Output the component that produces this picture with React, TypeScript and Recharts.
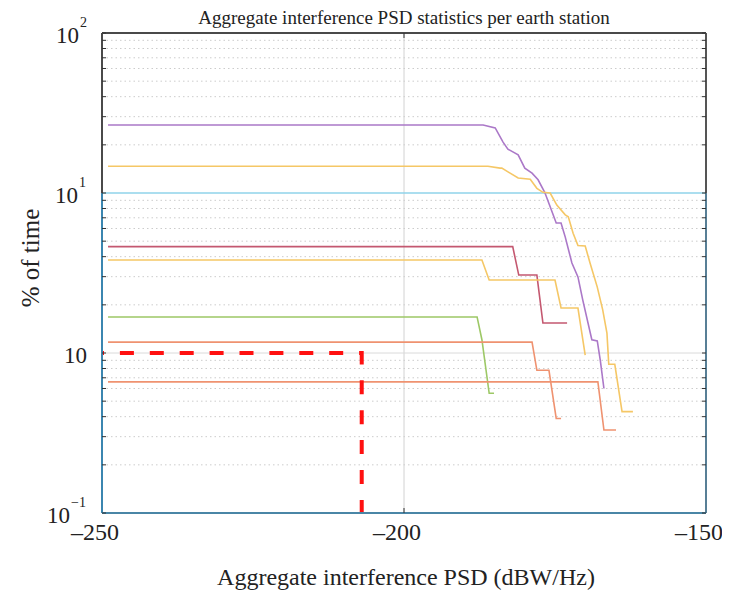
import React from 'react';
import { LineChart, Line, XAxis, YAxis, ReferenceLine } from 'recharts';

// x values in dBW/Hz, y values in % of time
const purpleX = [-249, -186.9, -184.9, -183.6, -182.8, -181.1, -180.0, -178.8, -177.8, -176.7, -175.8, -174.8, -174.0, -173.3, -172.2, -171.2, -170.4, -168.9, -168.0, -167.5, -166.9];
const purpleY = [26.6, 26.6, 25.5, 20.8, 18.8, 17.3, 14.3, 13.3, 12.1, 10.1, 8.2, 6.5, 6.5, 5.3, 3.65, 2.99, 2.14, 1.21, 1.19, 0.9, 0.6];

const yellowAX = [-249, -186.1, -184.1, -183.8, -181.1, -179.1, -178.0, -177.0, -175.8, -174.7, -173.3, -172.8, -172.0, -171.2, -170.0, -169.2, -168.0, -167.1, -166.4, -166.1, -165.1, -163.9, -162.1];
const yellowAY = [14.7, 14.7, 14.3, 14.3, 12.4, 12.2, 10.7, 10.1, 10.0, 8.4, 7.3, 7.1, 5.6, 4.7, 4.67, 3.65, 2.58, 1.86, 1.33, 0.85, 0.85, 0.43, 0.43];

const maroonX = [-249, -182.0, -181.0, -178.0, -177.0, -173.0];
const maroonY = [4.62, 4.62, 3.07, 3.07, 1.54, 1.54];

const yellowBX = [-249, -187.1, -185.9, -175.0, -174.0, -171.2, -170.0];
const yellowBY = [3.81, 3.81, 2.86, 2.86, 1.91, 1.91, 0.97];

const greenX = [-249, -187.9, -187.1, -185.9, -185.1];
const greenY = [1.68, 1.68, 1.21, 0.56, 0.56];

const orangeAX = [-249, -178.8, -178.0, -176.0, -174.8, -174.0];
const orangeAY = [1.17, 1.17, 0.78, 0.78, 0.39, 0.39];

const orangeBX = [-249, -167.9, -166.9, -164.9];
const orangeBY = [0.66, 0.66, 0.33, 0.33];

// protection criterion
const limitX = [-250, -207, -207];
const limitY = [1, 1, 0.1];

const xTicks = [-250, -200, -150];
const yTicks = [0.1, 1, 10, 100];
const minorGrid = [0.2, 0.3, 0.4, 0.5, 0.6, 0.7, 0.8, 0.9, 2, 3, 4, 5, 6, 7, 8, 9, 20, 30, 40, 50, 60, 70, 80, 90];

const PLOT_LEFT = 94;
const PLOT_RIGHT = 698;
const PLOT_TOP = 25;
const PLOT_BOTTOM = 505;
const FONT = '"Liberation Serif", "Times New Roman", serif';

const toPoints = (xs: number[], ys: number[]) => xs.map((x, i) => ({ x, y: ys[i] }));

const series = [
  { key: 'purple', xs: purpleX, ys: purpleY, color: '#ab78c8' },
  { key: 'yellowA', xs: yellowAX, ys: yellowAY, color: '#f5c766' },
  { key: 'maroon', xs: maroonX, ys: maroonY, color: '#c45870' },
  { key: 'yellowB', xs: yellowBX, ys: yellowBY, color: '#f5c766' },
  { key: 'green', xs: greenX, ys: greenY, color: '#9dc866' },
  { key: 'orangeA', xs: orangeAX, ys: orangeAY, color: '#ef9270' },
  { key: 'orangeB', xs: orangeBX, ys: orangeBY, color: '#ef9270' },
];

const majorLabels: Record<number, { right: number; sup: string }> = {
  100: { right: 71, sup: '2' },
  10: { right: 70, sup: '1' },
  1: { right: 79, sup: '' },
  0.1: { right: 62, sup: '\u22121' },
};

const YTick = (props: any) => {
  const { y, payload } = props;
  const v = payload.value;
  const lab = majorLabels[v];
  return (
    <g>
      <line x1={PLOT_LEFT} x2={PLOT_LEFT + 4} y1={y} y2={y} stroke="#333" strokeWidth={1} />
      <line x1={PLOT_RIGHT - 4} x2={PLOT_RIGHT} y1={y} y2={y} stroke="#333" strokeWidth={1} />
      {lab && (
        <text x={lab.right} y={y + 10} textAnchor="end" fontSize={23} fontFamily={FONT} fill="#222">
          10
        </text>
      )}
      {lab && lab.sup && (
        <text x={lab.right + 1} y={y - 6} textAnchor="start" fontSize={14} fontFamily={FONT} fill="#222">
          {lab.sup}
        </text>
      )}
    </g>
  );
};

const XTick = (props: any) => {
  const { x, payload } = props;
  const inner = payload.value !== -250 && payload.value !== -150;
  return (
    <g>
      {inner && <line x1={x} x2={x} y1={PLOT_BOTTOM} y2={PLOT_BOTTOM - 5} stroke="#333" />}
      {inner && <line x1={x} x2={x} y1={PLOT_TOP} y2={PLOT_TOP + 5} stroke="#333" />}
      <text x={x - 7} y={PLOT_BOTTOM + 27} textAnchor="middle" fontSize={24} fontFamily={FONT} fill="#222">
        {'\u2013' + Math.abs(payload.value)}
      </text>
    </g>
  );
};

const YLabel = () => (
  <text
    x={22}
    y={250}
    transform="rotate(-90 22 250)"
    textAnchor="middle"
    dominantBaseline="central"
    fontSize={25}
    fontFamily={FONT}
    fill="#222"
  >
    % of time
  </text>
);

const XLabel = () => (
  <text x={398} y={577} textAnchor="middle" fontSize={24} fontFamily={FONT} fill="#222">
    Aggregate interference PSD (dBW/Hz)
  </text>
);

export default function App() {
  return (
    <div style={{ position: 'relative', width: 722, height: 583, background: '#fff' }}>
      <div
        style={{
          position: 'absolute',
          left: PLOT_LEFT,
          width: PLOT_RIGHT - PLOT_LEFT,
          top: 0,
          textAlign: 'center',
          fontFamily: FONT,
          fontSize: 19,
          lineHeight: '20px',
          color: '#222',
        }}
      >
        Aggregate interference PSD statistics per earth station
      </div>
      <LineChart width={722} height={583} margin={{ top: PLOT_TOP, right: 24, bottom: 0, left: 0 }}>
        <XAxis
          type="number"
          dataKey="x"
          domain={[-250, -150]}
          ticks={xTicks}
          interval={0}
          allowDataOverflow
          height={78}
          axisLine={false}
          tickLine={false}
          tick={<XTick />}
          label={<XLabel />}
        />
        <YAxis
          type="number"
          dataKey="y"
          scale="log"
          domain={[0.1, 100]}
          ticks={[...yTicks, ...minorGrid]}
          interval={0}
          allowDataOverflow
          width={94}
          axisLine={false}
          tickLine={false}
          tick={<YTick />}
          label={<YLabel />}
        />
        {minorGrid.map((v) => (
          <ReferenceLine key={`g${v}`} y={v} stroke="#cccccc" strokeDasharray="1.5 3" />
        ))}
        <ReferenceLine x={-200} stroke="#d2d2d2" />
        <ReferenceLine y={1} stroke="#dadada" />
        <ReferenceLine y={10} stroke="#8fd3ea" strokeWidth={1.5} />

        {series.map((s) => (
          <Line
            key={s.key}
            data={toPoints(s.xs, s.ys)}
            dataKey="y"
            type="linear"
            stroke={s.color}
            strokeWidth={1.6}
            dot={false}
            isAnimationActive={false}
          />
        ))}
        <Line
          data={toPoints(limitX, limitY)}
          dataKey="y"
          type="linear"
          stroke="#ff1010"
          strokeWidth={4}
          strokeDasharray="14 15.9"
          strokeDashoffset={12}
          dot={false}
          isAnimationActive={false}
        />

        {/* frame */}
        <ReferenceLine segment={[{ x: -250, y: 100 }, { x: -150, y: 100 }]} stroke="#4a4a4a" strokeWidth={2} />
        <ReferenceLine segment={[{ x: -250, y: 10 }, { x: -250, y: 100 }]} stroke="#4a4a4a" strokeWidth={2} />
        <ReferenceLine segment={[{ x: -250, y: 0.1 }, { x: -250, y: 10 }]} stroke="#3b86b0" strokeWidth={2} />
        <ReferenceLine segment={[{ x: -150, y: 10 }, { x: -150, y: 100 }]} stroke="#555" strokeWidth={2} />
        <ReferenceLine segment={[{ x: -150, y: 0.1 }, { x: -150, y: 10 }]} stroke="#587f96" strokeWidth={2} />
        <ReferenceLine segment={[{ x: -250, y: 0.1 }, { x: -150, y: 0.1 }]} stroke="#4a86a6" strokeWidth={2} />
      </LineChart>
    </div>
  );
}
